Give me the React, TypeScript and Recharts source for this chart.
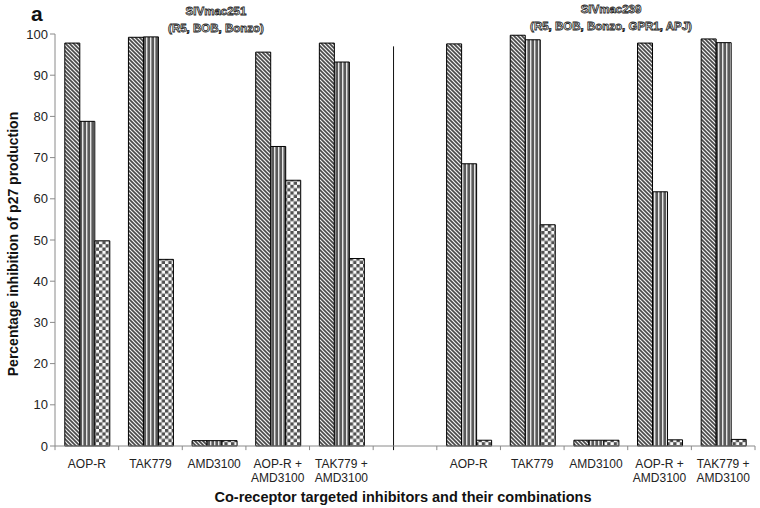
import { Bar, BarChart, Label, ReferenceLine, XAxis, YAxis } from 'recharts';

/* Categories: 5 inhibitors for each virus, with one empty spacer slot between the two halves. */
const CATEGORIES = [
  'AOP-R',
  'TAK779',
  'AMD3100',
  'AOP-R +\nAMD3100',
  'TAK779 +\nAMD3100',
  '',
  'AOP-R',
  'TAK779',
  'AMD3100',
  'AOP-R +\nAMD3100',
  'TAK779 +\nAMD3100',
];

// Percentage inhibition of p27 production, three series per category (null = spacer)
const SERIES_A = [97.8, 99.2, 1.3, 95.6, 97.8, null, 97.6, 99.7, 1.4, 97.8, 98.8];
const SERIES_B = [78.8, 99.3, 1.3, 72.7, 93.2, null, 68.5, 98.6, 1.4, 61.7, 97.9];
const SERIES_C = [49.8, 45.3, 1.3, 64.5, 45.5, null, 1.4, 53.7, 1.4, 1.5, 1.6];

const Y_TICKS = [0, 10, 20, 30, 40, 50, 60, 70, 80, 90, 100];
// category boundaries (slot units) where the x axis carries its small tick marks
const SLOT_BOUNDS = [0, 1, 2, 3, 4, 5, 6, 7, 8, 9, 10, 11];
// divider between the two viruses, in slot units, and its top in %
const DIVIDER_X = 5.32;
const DIVIDER_TOP = 97;

const rows = CATEGORIES.map((name, i) => ({
  name,
  slot: i + 0.5,
  a: SERIES_A[i],
  b: SERIES_B[i],
  c: SERIES_C[i],
}));

const FONT = 'Arial, "Liberation Sans", sans-serif';
const AXIS_GRAY = '#8a8a8a';

function CatTick({ x, y, payload }: any) {
  const lines = String(payload.value).split('\n');
  return (
    <g transform={`translate(${x},${y})`}>
      {lines.map((l, i) => (
        <text
          key={i}
          x={0}
          y={14 + i * 14}
          textAnchor="middle"
          fontFamily={FONT}
          fontSize={12}
          fill="#222"
        >
          {l}
        </text>
      ))}
    </g>
  );
}

const outlineTitle = {
  position: 'absolute' as const,
  fontFamily: FONT,
  fontWeight: 700,
  fontSize: 11.5,
  color: '#fff',
  WebkitTextStroke: '0.8px #222',
  transform: 'translateX(-50%)',
  whiteSpace: 'nowrap' as const,
  lineHeight: '17px',
  textAlign: 'center' as const,
};

export default function App() {
  return (
    <div style={{ position: 'absolute', left: 0, top: 0, width: 760, height: 508, background: '#fff' }}>
      <BarChart
        width={760}
        height={508}
        data={rows}
        margin={{ top: 34, right: 5, left: 0, bottom: 0 }}
        barCategoryGap="15.4%"
        barGap={0}
      >
        <defs>
          <pattern id="hatch" width="4" height="4" patternUnits="userSpaceOnUse">
            <rect width="4" height="4" fill="#4a4a4a" />
            <path d="M-1,-1 L5,5 M3,-1 L5,1 M-1,3 L1,5" stroke="#f2f2f2" strokeWidth="1.2" />
          </pattern>
          <pattern id="vstripe" width="4" height="4" patternUnits="userSpaceOnUse">
            <rect width="4" height="4" fill="#5a5a5a" />
            <rect x="2" width="1.4" height="4" fill="#e6e6e6" />
          </pattern>
          <pattern id="checker" width="6.6" height="6.6" patternUnits="userSpaceOnUse">
            <rect width="6.6" height="6.6" fill="#fafafa" />
            <rect width="3.3" height="3.3" fill="#505050" />
            <rect x="3.3" y="3.3" width="3.3" height="3.3" fill="#505050" />
          </pattern>
        </defs>
        <XAxis
          xAxisId="slots"
          dataKey="slot"
          type="number"
          domain={[0, 11]}
          allowDataOverflow
          hide
        />
        <XAxis
          xAxisId="cat"
          dataKey="name"
          interval={0}
          axisLine={{ stroke: AXIS_GRAY }}
          tickLine={false}
          tick={<CatTick />}
          height={62}
        >
          <Label
            content={({ viewBox }: any) => (
              <text
                x={viewBox.x + viewBox.width / 2 - 2}
                y={viewBox.y + 56}
                textAnchor="middle"
                fontFamily={FONT}
                fontWeight={700}
                fontSize={14.5}
                fill="#111"
              >
                Co-receptor targeted inhibitors and their combinations
              </text>
            )}
          />
        </XAxis>
        <YAxis
          domain={[0, 100]}
          ticks={Y_TICKS}
          width={55}
          tickSize={5}
          stroke={AXIS_GRAY}
          tick={{ fill: '#222', fontSize: 13, fontFamily: FONT }}
        >
          <Label
            content={({ viewBox }: any) => {
              const cx = 13;
              const cy = viewBox.y + viewBox.height / 2 + 4;
              return (
                <text
                  x={cx}
                  y={cy}
                  transform={`rotate(-90, ${cx}, ${cy})`}
                  textAnchor="middle"
                  dominantBaseline="central"
                  fontFamily={FONT}
                  fontWeight={700}
                  fontSize={14}
                  fill="#111"
                >
                  Percentage inhibition of p27 production
                </text>
              );
            }}
          />
        </YAxis>
        {SLOT_BOUNDS.map((b) => (
          <ReferenceLine
            key={b}
            xAxisId="slots"
            segment={[
              { x: b, y: 0 },
              { x: b, y: -1 },
            ]}
            stroke={AXIS_GRAY}
            ifOverflow="visible"
          />
        ))}
        <ReferenceLine
          xAxisId="slots"
          segment={[
            { x: DIVIDER_X, y: -1 },
            { x: DIVIDER_X, y: DIVIDER_TOP },
          ]}
          stroke="#111"
          strokeWidth={1}
          ifOverflow="visible"
        />
        <Bar xAxisId="cat" dataKey="a" fill="url(#hatch)" stroke="#000" strokeWidth={1} isAnimationActive={false} />
        <Bar xAxisId="cat" dataKey="b" fill="url(#vstripe)" stroke="#000" strokeWidth={1} isAnimationActive={false} />
        <Bar xAxisId="cat" dataKey="c" fill="url(#checker)" stroke="#000" strokeWidth={1} isAnimationActive={false} />
      </BarChart>
      <div
        style={{
          position: 'absolute',
          left: 31,
          top: 2,
          fontFamily: FONT,
          fontWeight: 700,
          fontSize: 21,
          color: '#111',
        }}
      >
        a
      </div>
      <div style={{ ...outlineTitle, left: 216, top: 3 }}>
        SIVmac251
        <br />
        (R5, BOB, Bonzo)
      </div>
      <div style={{ ...outlineTitle, left: 611, top: 1 }}>
        SIVmac239
        <br />
        (R5, BOB, Bonzo, GPR1, APJ)
      </div>
    </div>
  );
}
